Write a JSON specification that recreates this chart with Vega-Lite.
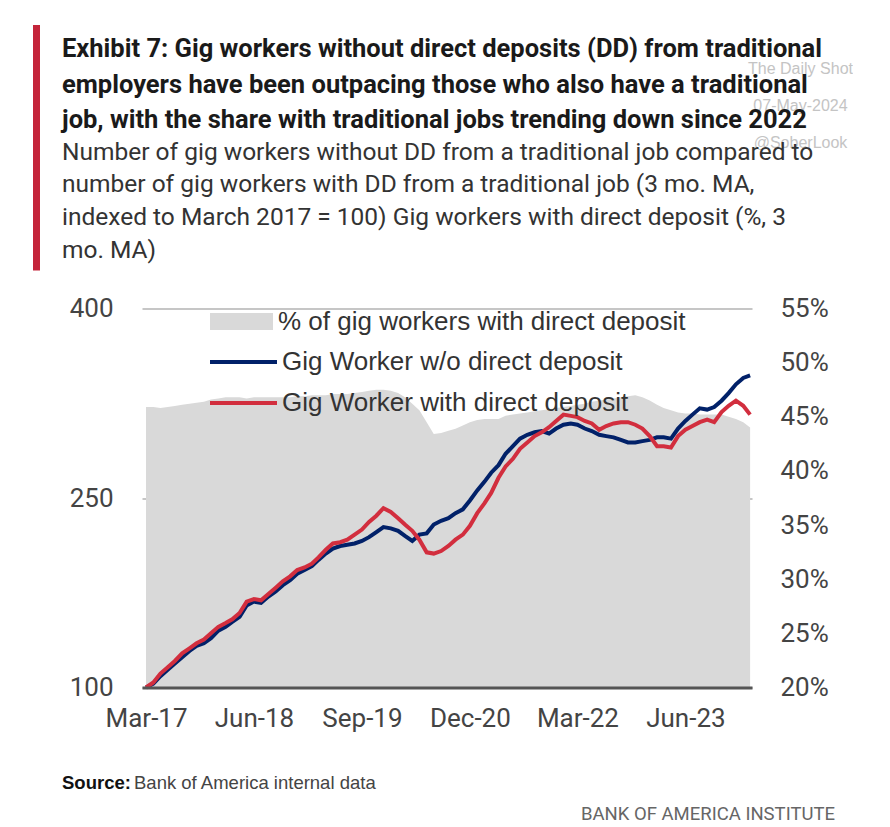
{
  "$schema": "https://vega.github.io/schema/vega-lite/v6.json",
  "background": "white",
  "padding": {"left": 33, "top": 25, "right": 0, "bottom": 0},
  "config": {"view": {"stroke": null}, "font": "Liberation Sans"},
  "datasets": {
    "withoutDD": [
      {"date": "2017-03-01", "value": 100}, {"date": "2017-04-01", "value": 103}, {"date": "2017-05-01", "value": 109}, {"date": "2017-06-01", "value": 114}, {"date": "2017-07-01", "value": 119}, {"date": "2017-08-01", "value": 124}, {"date": "2017-09-01", "value": 129}, {"date": "2017-10-01", "value": 133}, {"date": "2017-11-01", "value": 135}, {"date": "2017-12-01", "value": 139},
      {"date": "2018-01-01", "value": 145}, {"date": "2018-02-01", "value": 148}, {"date": "2018-03-01", "value": 152}, {"date": "2018-04-01", "value": 156}, {"date": "2018-05-01", "value": 165}, {"date": "2018-06-01", "value": 168}, {"date": "2018-07-01", "value": 167}, {"date": "2018-08-01", "value": 172}, {"date": "2018-09-01", "value": 176}, {"date": "2018-10-01", "value": 181},
      {"date": "2018-11-01", "value": 185}, {"date": "2018-12-01", "value": 190}, {"date": "2019-01-01", "value": 193}, {"date": "2019-02-01", "value": 196}, {"date": "2019-03-01", "value": 201}, {"date": "2019-04-01", "value": 206}, {"date": "2019-05-01", "value": 210}, {"date": "2019-06-01", "value": 212}, {"date": "2019-07-01", "value": 213}, {"date": "2019-08-01", "value": 214},
      {"date": "2019-09-01", "value": 216}, {"date": "2019-10-01", "value": 219}, {"date": "2019-11-01", "value": 223}, {"date": "2019-12-01", "value": 227}, {"date": "2020-01-01", "value": 226}, {"date": "2020-02-01", "value": 224}, {"date": "2020-03-01", "value": 220}, {"date": "2020-04-01", "value": 216}, {"date": "2020-05-01", "value": 221}, {"date": "2020-06-01", "value": 222},
      {"date": "2020-07-01", "value": 229}, {"date": "2020-08-01", "value": 232}, {"date": "2020-09-01", "value": 234}, {"date": "2020-10-01", "value": 238}, {"date": "2020-11-01", "value": 241}, {"date": "2020-12-01", "value": 248}, {"date": "2021-01-01", "value": 256}, {"date": "2021-02-01", "value": 263}, {"date": "2021-03-01", "value": 270}, {"date": "2021-04-01", "value": 276},
      {"date": "2021-05-01", "value": 285}, {"date": "2021-06-01", "value": 291}, {"date": "2021-07-01", "value": 297}, {"date": "2021-08-01", "value": 300}, {"date": "2021-09-01", "value": 302}, {"date": "2021-10-01", "value": 303}, {"date": "2021-11-01", "value": 301}, {"date": "2021-12-01", "value": 305}, {"date": "2022-01-01", "value": 308}, {"date": "2022-02-01", "value": 309},
      {"date": "2022-03-01", "value": 308}, {"date": "2022-04-01", "value": 305}, {"date": "2022-05-01", "value": 303}, {"date": "2022-06-01", "value": 300}, {"date": "2022-07-01", "value": 299}, {"date": "2022-08-01", "value": 298}, {"date": "2022-09-01", "value": 296}, {"date": "2022-10-01", "value": 294}, {"date": "2022-11-01", "value": 294}, {"date": "2022-12-01", "value": 295},
      {"date": "2023-01-01", "value": 296}, {"date": "2023-02-01", "value": 298}, {"date": "2023-03-01", "value": 298}, {"date": "2023-04-01", "value": 297}, {"date": "2023-05-01", "value": 305}, {"date": "2023-06-01", "value": 311}, {"date": "2023-07-01", "value": 316}, {"date": "2023-08-01", "value": 321}, {"date": "2023-09-01", "value": 320}, {"date": "2023-10-01", "value": 322},
      {"date": "2023-11-01", "value": 327}, {"date": "2023-12-01", "value": 333}, {"date": "2024-01-01", "value": 340}, {"date": "2024-02-01", "value": 345}, {"date": "2024-03-01", "value": 347}
    ],
    "withDD": [
      {"date": "2017-03-01", "value": 100}, {"date": "2017-04-01", "value": 104}, {"date": "2017-05-01", "value": 111}, {"date": "2017-06-01", "value": 116}, {"date": "2017-07-01", "value": 121}, {"date": "2017-08-01", "value": 127}, {"date": "2017-09-01", "value": 131}, {"date": "2017-10-01", "value": 135}, {"date": "2017-11-01", "value": 138}, {"date": "2017-12-01", "value": 143},
      {"date": "2018-01-01", "value": 148}, {"date": "2018-02-01", "value": 151}, {"date": "2018-03-01", "value": 154}, {"date": "2018-04-01", "value": 159}, {"date": "2018-05-01", "value": 168}, {"date": "2018-06-01", "value": 170}, {"date": "2018-07-01", "value": 169}, {"date": "2018-08-01", "value": 174}, {"date": "2018-09-01", "value": 179}, {"date": "2018-10-01", "value": 184},
      {"date": "2018-11-01", "value": 188}, {"date": "2018-12-01", "value": 193}, {"date": "2019-01-01", "value": 195}, {"date": "2019-02-01", "value": 198}, {"date": "2019-03-01", "value": 203}, {"date": "2019-04-01", "value": 209}, {"date": "2019-05-01", "value": 214}, {"date": "2019-06-01", "value": 215}, {"date": "2019-07-01", "value": 217}, {"date": "2019-08-01", "value": 221},
      {"date": "2019-09-01", "value": 225}, {"date": "2019-10-01", "value": 231}, {"date": "2019-11-01", "value": 236}, {"date": "2019-12-01", "value": 242}, {"date": "2020-01-01", "value": 239}, {"date": "2020-02-01", "value": 234}, {"date": "2020-03-01", "value": 229}, {"date": "2020-04-01", "value": 224}, {"date": "2020-05-01", "value": 217}, {"date": "2020-06-01", "value": 207},
      {"date": "2020-07-01", "value": 206}, {"date": "2020-08-01", "value": 208}, {"date": "2020-09-01", "value": 212}, {"date": "2020-10-01", "value": 217}, {"date": "2020-11-01", "value": 221}, {"date": "2020-12-01", "value": 228}, {"date": "2021-01-01", "value": 238}, {"date": "2021-02-01", "value": 246}, {"date": "2021-03-01", "value": 254}, {"date": "2021-04-01", "value": 266},
      {"date": "2021-05-01", "value": 275}, {"date": "2021-06-01", "value": 281}, {"date": "2021-07-01", "value": 289}, {"date": "2021-08-01", "value": 294}, {"date": "2021-09-01", "value": 299}, {"date": "2021-10-01", "value": 302}, {"date": "2021-11-01", "value": 306}, {"date": "2021-12-01", "value": 311}, {"date": "2022-01-01", "value": 316}, {"date": "2022-02-01", "value": 315},
      {"date": "2022-03-01", "value": 314}, {"date": "2022-04-01", "value": 311}, {"date": "2022-05-01", "value": 309}, {"date": "2022-06-01", "value": 304}, {"date": "2022-07-01", "value": 307}, {"date": "2022-08-01", "value": 309}, {"date": "2022-09-01", "value": 310}, {"date": "2022-10-01", "value": 310}, {"date": "2022-11-01", "value": 308}, {"date": "2022-12-01", "value": 305},
      {"date": "2023-01-01", "value": 299}, {"date": "2023-02-01", "value": 291}, {"date": "2023-03-01", "value": 291}, {"date": "2023-04-01", "value": 290}, {"date": "2023-05-01", "value": 299}, {"date": "2023-06-01", "value": 304}, {"date": "2023-07-01", "value": 307}, {"date": "2023-08-01", "value": 310}, {"date": "2023-09-01", "value": 312}, {"date": "2023-10-01", "value": 310},
      {"date": "2023-11-01", "value": 318}, {"date": "2023-12-01", "value": 323}, {"date": "2024-01-01", "value": 327}, {"date": "2024-02-01", "value": 323}, {"date": "2024-03-01", "value": 316}
    ],
    "share": [
      {"date": "2017-03-01", "pct": 0.459}, {"date": "2017-04-01", "pct": 0.459}, {"date": "2017-05-01", "pct": 0.458}, {"date": "2017-06-01", "pct": 0.459}, {"date": "2017-07-01", "pct": 0.460}, {"date": "2017-08-01", "pct": 0.461}, {"date": "2017-09-01", "pct": 0.462}, {"date": "2017-10-01", "pct": 0.463}, {"date": "2017-11-01", "pct": 0.464}, {"date": "2017-12-01", "pct": 0.466},
      {"date": "2018-01-01", "pct": 0.467}, {"date": "2018-02-01", "pct": 0.468}, {"date": "2018-03-01", "pct": 0.468}, {"date": "2018-04-01", "pct": 0.468}, {"date": "2018-05-01", "pct": 0.467}, {"date": "2018-06-01", "pct": 0.468}, {"date": "2018-07-01", "pct": 0.468}, {"date": "2018-08-01", "pct": 0.468}, {"date": "2018-09-01", "pct": 0.468}, {"date": "2018-10-01", "pct": 0.468},
      {"date": "2018-11-01", "pct": 0.468}, {"date": "2018-12-01", "pct": 0.469}, {"date": "2019-01-01", "pct": 0.469}, {"date": "2019-02-01", "pct": 0.470}, {"date": "2019-03-01", "pct": 0.470}, {"date": "2019-04-01", "pct": 0.470}, {"date": "2019-05-01", "pct": 0.471}, {"date": "2019-06-01", "pct": 0.471}, {"date": "2019-07-01", "pct": 0.471}, {"date": "2019-08-01", "pct": 0.472},
      {"date": "2019-09-01", "pct": 0.473}, {"date": "2019-10-01", "pct": 0.474}, {"date": "2019-11-01", "pct": 0.475}, {"date": "2019-12-01", "pct": 0.475}, {"date": "2020-01-01", "pct": 0.474}, {"date": "2020-02-01", "pct": 0.472}, {"date": "2020-03-01", "pct": 0.468}, {"date": "2020-04-01", "pct": 0.462}, {"date": "2020-05-01", "pct": 0.456}, {"date": "2020-06-01", "pct": 0.445},
      {"date": "2020-07-01", "pct": 0.434}, {"date": "2020-08-01", "pct": 0.435}, {"date": "2020-09-01", "pct": 0.437}, {"date": "2020-10-01", "pct": 0.439}, {"date": "2020-11-01", "pct": 0.442}, {"date": "2020-12-01", "pct": 0.445}, {"date": "2021-01-01", "pct": 0.447}, {"date": "2021-02-01", "pct": 0.448}, {"date": "2021-03-01", "pct": 0.448}, {"date": "2021-04-01", "pct": 0.448},
      {"date": "2021-05-01", "pct": 0.451}, {"date": "2021-06-01", "pct": 0.452}, {"date": "2021-07-01", "pct": 0.453}, {"date": "2021-08-01", "pct": 0.454}, {"date": "2021-09-01", "pct": 0.455}, {"date": "2021-10-01", "pct": 0.456}, {"date": "2021-11-01", "pct": 0.457}, {"date": "2021-12-01", "pct": 0.458}, {"date": "2022-01-01", "pct": 0.459}, {"date": "2022-02-01", "pct": 0.460},
      {"date": "2022-03-01", "pct": 0.461}, {"date": "2022-04-01", "pct": 0.462}, {"date": "2022-05-01", "pct": 0.464}, {"date": "2022-06-01", "pct": 0.465}, {"date": "2022-07-01", "pct": 0.466}, {"date": "2022-08-01", "pct": 0.467}, {"date": "2022-09-01", "pct": 0.468}, {"date": "2022-10-01", "pct": 0.469}, {"date": "2022-11-01", "pct": 0.470}, {"date": "2022-12-01", "pct": 0.468},
      {"date": "2023-01-01", "pct": 0.465}, {"date": "2023-02-01", "pct": 0.461}, {"date": "2023-03-01", "pct": 0.458}, {"date": "2023-04-01", "pct": 0.456}, {"date": "2023-05-01", "pct": 0.454}, {"date": "2023-06-01", "pct": 0.453}, {"date": "2023-07-01", "pct": 0.453}, {"date": "2023-08-01", "pct": 0.452}, {"date": "2023-09-01", "pct": 0.452}, {"date": "2023-10-01", "pct": 0.452},
      {"date": "2023-11-01", "pct": 0.452}, {"date": "2023-12-01", "pct": 0.450}, {"date": "2024-01-01", "pct": 0.448}, {"date": "2024-02-01", "pct": 0.445}, {"date": "2024-03-01", "pct": 0.440}
    ]
  },
  "vconcat": [
    {
      "hconcat": [
        {
          "width": 7,
          "height": 245.5,
          "data": {"values": [{}]},
          "mark": {"type": "rect", "color": "#c4243a"}
        },
        {
          "width": 790,
          "height": 245.5,
          "data": {"values": [{}]},
          "mark": {"type": "text"},
          "encoding": {
            "y": {
              "datum": 0, "type": "quantitative", "scale": {"domain": [0, 1]},
              "axis": {
                "orient": "right", "labels": false, "ticks": false, "domain": false, "grid": false, "minExtent": 0,
                "title": ["The Daily Shot", "07-May-2024", "@SoberLook"],
                "titleAngle": 0, "titleX": -52, "titleY": 35, "titleAlign": "center", "titleBaseline": "top",
                "titleFont": "Liberation Sans", "titleFontSize": 16, "titleFontWeight": "normal",
                "titleColor": "#c4c4c4", "titleLineHeight": 37
              }
            }
          },
          "title": {
            "text": [
              "Exhibit 7: Gig workers without direct deposits (DD) from traditional",
              "employers have been outpacing those who also have a traditional",
              "job, with the share with traditional jobs trending down since 2022"
            ],
            "subtitle": [
              "Number of gig workers without DD from a traditional job compared to",
              "number of gig workers with DD from a traditional job (3 mo. MA,",
              "indexed to March 2017 = 100) Gig workers with direct deposit (%, 3",
              "mo. MA)"
            ],
            "orient": "bottom",
            "anchor": "start",
            "frame": "group",
            "font": "Roboto",
            "fontSize": 25.5,
            "fontWeight": "bold",
            "color": "#1a1a1a",
            "lineHeight": 35.5,
            "subtitleFont": "Roboto",
            "subtitleFontSize": 24.5,
            "subtitleFontWeight": "normal",
            "subtitleColor": "#333333",
            "subtitleLineHeight": 32.8,
            "subtitlePadding": 7,
            "offset": -238.5
          }
        }
      ],
      "spacing": 22
    },
    {
      "hconcat": [
        {"width": 7, "height": 446, "data": {"values": [{}]}, "mark": {"type": "text"}},
        {
          "width": 610,
          "height": 379,
          "layer": [
            {
              "data": {"name": "share"},
              "mark": {"type": "area", "opacity": 1},
              "encoding": {
                "x": {
                  "field": "date", "type": "temporal",
                  "scale": {"type": "utc", "domain": [{"year": 2017, "month": 2, "date": 12, "utc": true}, {"year": 2024, "month": 3, "date": 9, "utc": true}]},
                  "axis": {
                    "values": [
                      {"year": 2017, "month": 3, "date": 1, "utc": true},
                      {"year": 2018, "month": 6, "date": 1, "utc": true},
                      {"year": 2019, "month": 9, "date": 1, "utc": true},
                      {"year": 2020, "month": 12, "date": 1, "utc": true},
                      {"year": 2022, "month": 3, "date": 1, "utc": true},
                      {"year": 2023, "month": 6, "date": 1, "utc": true}
                    ],
                    "format": "%b-%y", "title": null, "grid": false, "ticks": false,
                    "domain": true, "domainColor": "#555555", "domainWidth": 3,
                    "labelFont": "Roboto", "labelFontSize": 26, "labelColor": "#444444",
                    "labelPadding": 18, "labelFlush": false, "labelOverlap": false, "zindex": 1
                  }
                },
                "y": {
                  "field": "pct", "type": "quantitative",
                  "scale": {"domain": [0.2, 0.55], "nice": false, "zero": false},
                  "axis": {
                    "orient": "right",
                    "values": [0.2, 0.25, 0.3, 0.35, 0.4, 0.45, 0.5, 0.55],
                    "format": ".0%", "grid": false, "ticks": false, "domain": false, "title": null,
                    "labelFont": "Roboto", "labelFontSize": 26, "labelColor": "#444444", "labelPadding": 28
                  }
                },
                "y2": {"datum": 0.2},
                "fill": {
                  "datum": "% of gig workers with direct deposit", "type": "nominal",
                  "scale": {"domain": ["% of gig workers with direct deposit"], "range": ["#d9d9d9"]},
                  "legend": {
                    "orient": "none", "legendX": 177, "legendY": 283.5, "title": null,
                    "symbolType": "M-1,-0.27H1V0.27H-1Z", "symbolSize": 3969, "symbolStrokeWidth": 0,
                    "clipHeight": 26,
                    "labelFont": "Liberation Sans", "labelFontSize": 26, "labelColor": "#333333",
                    "labelLimit": 1000, "labelOffset": 5
                  }
                }
              }
            },
            {
              "layer": [
                {
                  "data": {"name": "withoutDD"},
                  "mark": {"type": "line", "strokeWidth": 4},
                  "encoding": {
                    "x": {"field": "date", "type": "temporal", "scale": {"type": "utc", "domain": [{"year": 2017, "month": 2, "date": 12, "utc": true}, {"year": 2024, "month": 3, "date": 9, "utc": true}]}},
                    "y": {
                      "field": "value", "type": "quantitative",
                      "scale": {"domain": [100, 400], "nice": false, "zero": false},
                      "axis": {
                        "orient": "left", "values": [100, 250, 400], "title": null,
                        "grid": true, "gridColor": "#b3b3b3", "gridWidth": 1.5,
                        "ticks": false, "domain": false,
                        "labelFont": "Roboto", "labelFontSize": 26, "labelColor": "#444444",
                        "labelPadding": 29, "minExtent": 80
                      }
                    },
                    "stroke": {
                      "datum": "Gig Worker w/o direct deposit", "type": "nominal",
                      "scale": {"domain": ["Gig Worker w/o direct deposit", "Gig Worker with direct deposit"], "range": ["#012169", "#d22e3e"]},
                      "legend": {
                        "orient": "none", "legendX": 175, "legendY": 324, "title": null,
                        "symbolType": "stroke", "symbolSize": 4489, "symbolStrokeWidth": 4,
                        "clipHeight": 26,
                        "labelFont": "Liberation Sans", "labelFontSize": 26, "labelColor": "#333333",
                        "labelLimit": 1000, "labelOffset": 3, "rowPadding": 15
                      }
                    }
                  }
                },
                {
                  "data": {"name": "withDD"},
                  "mark": {"type": "line", "strokeWidth": 4},
                  "encoding": {
                    "x": {"field": "date", "type": "temporal", "scale": {"type": "utc", "domain": [{"year": 2017, "month": 2, "date": 12, "utc": true}, {"year": 2024, "month": 3, "date": 9, "utc": true}]}},
                    "y": {"field": "value", "type": "quantitative", "scale": {"domain": [100, 400], "nice": false, "zero": false}},
                    "stroke": {"datum": "Gig Worker with direct deposit", "type": "nominal"}
                  }
                }
              ]
            }
          ],
          "resolve": {"scale": {"y": "independent"}}
        }
      ],
      "spacing": 22
    },
    {
      "vconcat": [
        {
          "hconcat": [
            {"width": 26, "height": 1, "data": {"values": [{}]}, "mark": {"type": "text"}},
            {
              "width": 1, "height": 1, "data": {"values": [{}]}, "mark": {"type": "text"},
              "title": {"text": "Source:", "anchor": "start", "frame": "group", "font": "Liberation Sans", "fontSize": 18.5, "fontWeight": "bold", "color": "#111111", "offset": 0}
            },
            {
              "width": 1, "height": 1, "data": {"values": [{}]}, "mark": {"type": "text"},
              "title": {"text": "Bank of America internal data", "anchor": "start", "frame": "group", "font": "Liberation Sans", "fontSize": 18.5, "fontWeight": "normal", "color": "#444444", "offset": 0}
            }
          ],
          "spacing": 3
        },
        {
          "width": 802, "height": 1, "data": {"values": [{}]}, "mark": {"type": "text"},
          "title": {"text": "BANK OF AMERICA INSTITUTE", "anchor": "end", "frame": "group", "font": "Roboto", "fontSize": 18.5, "fontWeight": "normal", "color": "#666666", "offset": 0}
        }
      ],
      "spacing": 0.5
    }
  ],
  "spacing": 19.5
}
